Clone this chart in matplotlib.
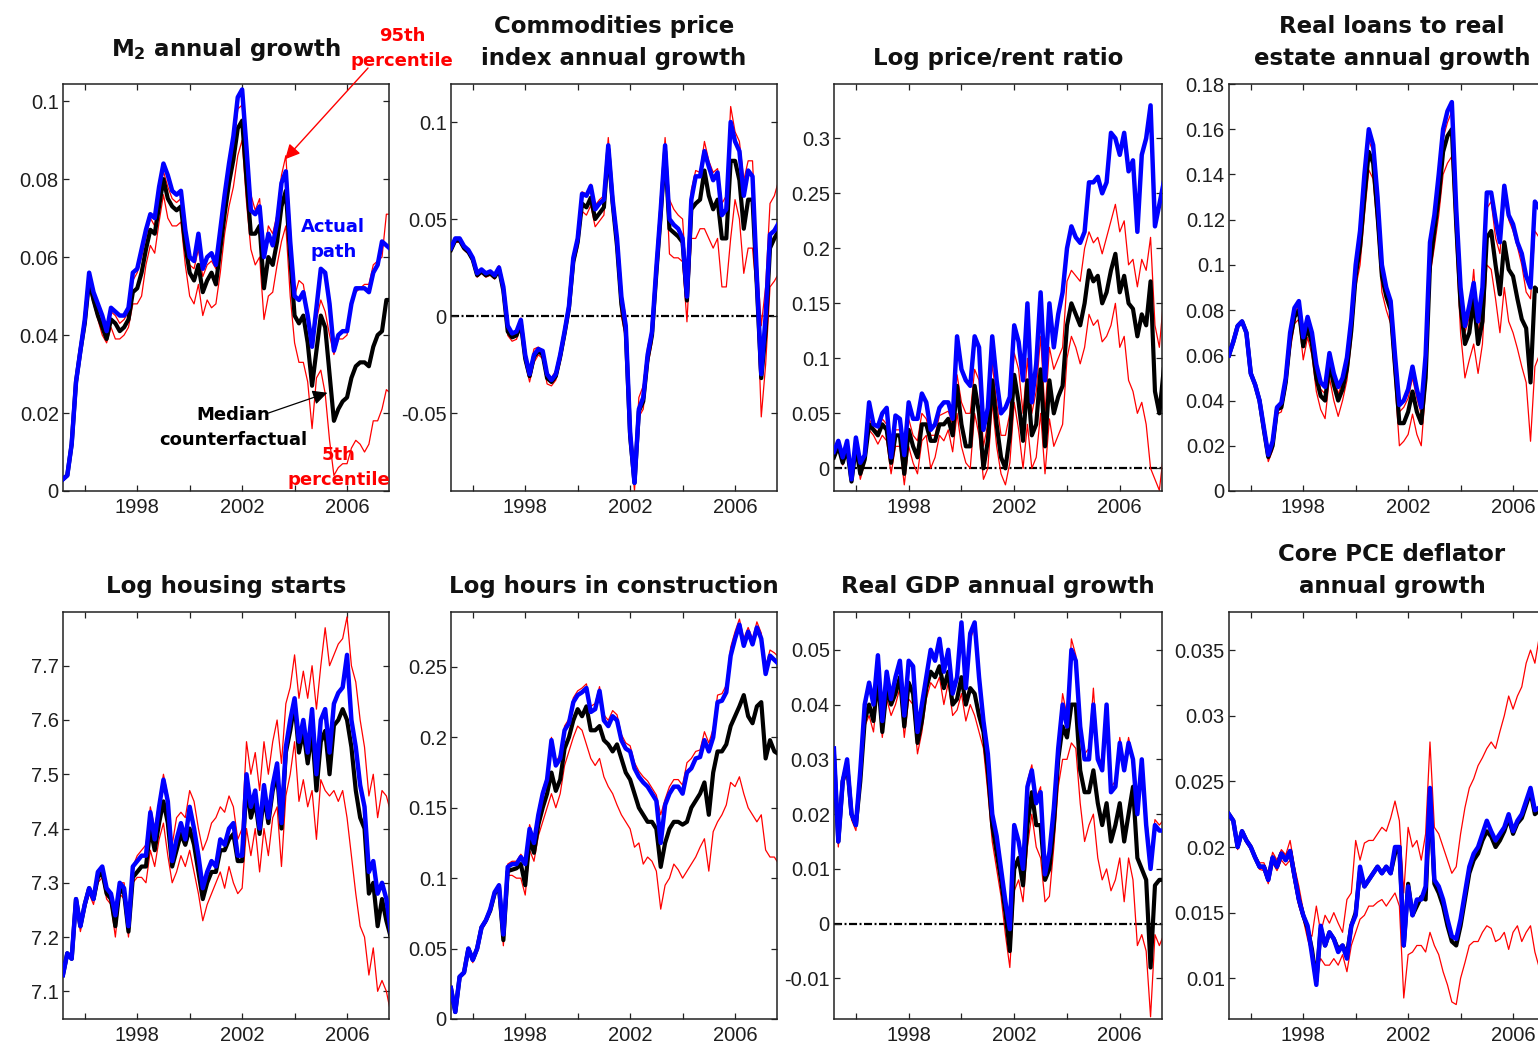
import numpy as np
import matplotlib
matplotlib.use('Agg')
import matplotlib.pyplot as plt

# bimonthly observations, Mar 1995 .. Sep 2007
dates = 1995 + 2/12 + np.arange(76) / 6

# ---- M2 annual growth ----
m2_actual = [0.003, 0.004, 0.012, 0.028, 0.036,
             0.044, 0.056, 0.051, 0.048, 0.045, 0.041,
             0.047, 0.046, 0.045, 0.045, 0.047, 0.056,
             0.057, 0.062, 0.067, 0.071, 0.070, 0.078,
             0.084, 0.081, 0.077, 0.076, 0.077, 0.067,
             0.060, 0.059, 0.066, 0.057, 0.060, 0.061,
             0.058, 0.067, 0.076, 0.084, 0.091, 0.101,
             0.103, 0.088, 0.072, 0.071, 0.073, 0.060,
             0.066, 0.063, 0.069, 0.079, 0.082, 0.064,
             0.050, 0.049, 0.051, 0.045, 0.037, 0.047,
             0.057, 0.056, 0.048, 0.036, 0.040, 0.041,
             0.041, 0.048, 0.052, 0.052, 0.052, 0.051,
             0.056, 0.058, 0.064, 0.063, 0.062]
m2_median = [0.003, 0.004, 0.012, 0.028, 0.036,
             0.043, 0.054, 0.049, 0.045, 0.042, 0.039,
             0.044, 0.043, 0.041, 0.042, 0.044, 0.051,
             0.052, 0.056, 0.062, 0.067, 0.066, 0.073,
             0.080, 0.075, 0.073, 0.072, 0.073, 0.063,
             0.056, 0.054, 0.058, 0.051, 0.054, 0.056,
             0.053, 0.062, 0.071, 0.079, 0.085, 0.093,
             0.095, 0.080, 0.066, 0.066, 0.068, 0.052,
             0.060, 0.058, 0.064, 0.073, 0.077, 0.060,
             0.045, 0.043, 0.045, 0.038, 0.027, 0.036,
             0.045, 0.042, 0.030, 0.018, 0.021, 0.023,
             0.024, 0.029, 0.032, 0.033, 0.033, 0.032,
             0.037, 0.040, 0.041, 0.049, 0.049]
m2_p95 = [0.003, 0.004, 0.012, 0.028, 0.036,
          0.043, 0.055, 0.050, 0.047, 0.044, 0.040,
          0.046, 0.045, 0.043, 0.044, 0.046, 0.054,
          0.056, 0.060, 0.065, 0.070, 0.068, 0.076,
          0.082, 0.078, 0.075, 0.074, 0.075, 0.065,
          0.058, 0.057, 0.062, 0.055, 0.058, 0.059,
          0.057, 0.066, 0.075, 0.082, 0.088, 0.098,
          0.099, 0.086, 0.076, 0.072, 0.075, 0.060,
          0.068, 0.066, 0.071, 0.081, 0.086, 0.068,
          0.050, 0.054, 0.053, 0.046, 0.038, 0.044,
          0.049, 0.046, 0.040, 0.035, 0.039, 0.039,
          0.040, 0.048, 0.051, 0.052, 0.053, 0.053,
          0.058, 0.059, 0.060, 0.071, 0.071]
m2_p05 = [0.003, 0.004, 0.011, 0.027, 0.035,
          0.042, 0.052, 0.048, 0.044, 0.040, 0.038,
          0.042, 0.039, 0.039, 0.040, 0.042, 0.048,
          0.048, 0.050, 0.058, 0.063, 0.061, 0.069,
          0.076, 0.070, 0.068, 0.068, 0.069, 0.058,
          0.050, 0.048, 0.053, 0.045, 0.049, 0.047,
          0.048, 0.056, 0.066, 0.073, 0.078, 0.086,
          0.090, 0.074, 0.062, 0.058, 0.060, 0.044,
          0.050, 0.051, 0.058, 0.064, 0.068, 0.050,
          0.038, 0.033, 0.033, 0.028, 0.016, 0.029,
          0.031, 0.025, 0.013, 0.004, 0.006, 0.007,
          0.007, 0.011, 0.013, 0.012, 0.010, 0.012,
          0.018, 0.018, 0.021, 0.026, 0.025]

# ---- commodities price index annual growth ----
com_actual = [0.035, 0.040, 0.040, 0.036, 0.034,
              0.030, 0.022, 0.024, 0.022, 0.023, 0.021,
              0.025, 0.015, -0.005, -0.009, -0.008, -0.002,
              -0.020, -0.030, -0.020, -0.017, -0.018, -0.030,
              -0.033, -0.030, -0.020, -0.008, 0.005, 0.030,
              0.040, 0.063, 0.062, 0.067, 0.055, 0.058,
              0.060, 0.088, 0.060, 0.040, 0.010, -0.005,
              -0.060, -0.086, -0.048, -0.042, -0.020, -0.008,
              0.025, 0.055, 0.088, 0.050, 0.047, 0.045,
              0.040, 0.010, 0.060, 0.072, 0.072, 0.085,
              0.077, 0.070, 0.074, 0.052, 0.055, 0.100,
              0.090, 0.085, 0.062, 0.075, 0.072, 0.020,
              -0.030, 0.000, 0.042, 0.044, 0.048]
com_median = [0.034, 0.039, 0.039, 0.035, 0.033,
              0.029, 0.021, 0.023, 0.021, 0.022, 0.020,
              0.024, 0.013, -0.008, -0.011, -0.010, -0.004,
              -0.022, -0.031, -0.021, -0.018, -0.020, -0.032,
              -0.034, -0.031, -0.021, -0.009, 0.004, 0.028,
              0.038, 0.058, 0.056, 0.061, 0.050, 0.053,
              0.056, 0.086, 0.058, 0.036, 0.006, -0.008,
              -0.062, -0.086, -0.049, -0.044, -0.022, -0.010,
              0.022, 0.052, 0.085, 0.045, 0.043, 0.041,
              0.038, 0.008, 0.055, 0.058, 0.060, 0.075,
              0.062, 0.055, 0.060, 0.040, 0.040, 0.080,
              0.080, 0.070, 0.045, 0.060, 0.060, 0.015,
              -0.032, -0.008, 0.035, 0.040, 0.044]
com_p95 = [0.035, 0.040, 0.040, 0.036, 0.034,
           0.030, 0.022, 0.024, 0.022, 0.023, 0.021,
           0.026, 0.015, -0.006, -0.009, -0.007, -0.001,
           -0.019, -0.028, -0.017, -0.016, -0.018, -0.029,
           -0.032, -0.028, -0.018, -0.006, 0.007, 0.032,
           0.041, 0.064, 0.063, 0.068, 0.057, 0.060,
           0.062, 0.092, 0.062, 0.045, 0.012, 0.000,
           -0.055, -0.080, -0.042, -0.036, -0.016, -0.006,
           0.028, 0.058, 0.092, 0.060, 0.055, 0.052,
           0.050, 0.015, 0.065, 0.075, 0.074, 0.090,
           0.080, 0.074, 0.076, 0.058, 0.062, 0.108,
           0.095, 0.090, 0.070, 0.080, 0.080, 0.030,
           -0.005, 0.015, 0.058, 0.062, 0.070]
com_p05 = [0.033, 0.038, 0.038, 0.034, 0.032,
           0.028, 0.020, 0.022, 0.020, 0.021, 0.019,
           0.023, 0.012, -0.010, -0.013, -0.012, -0.006,
           -0.024, -0.034, -0.024, -0.020, -0.022, -0.035,
           -0.036, -0.033, -0.024, -0.012, 0.002, 0.026,
           0.035, 0.054, 0.052, 0.057, 0.046, 0.049,
           0.052, 0.084, 0.056, 0.033, 0.000, -0.012,
           -0.065, -0.090, -0.052, -0.048, -0.026, -0.014,
           0.018, 0.048, 0.082, 0.032, 0.030, 0.030,
           0.028, -0.003, 0.040, 0.040, 0.045, 0.045,
           0.040, 0.035, 0.040, 0.015, 0.015, 0.040,
           0.060, 0.050, 0.022, 0.035, 0.035, 0.010,
           -0.052, -0.025, 0.015, 0.018, 0.022]

# ---- log price/rent ratio ----
pr_actual = [0.015, 0.025, 0.010, 0.025, -0.010,
             0.028, 0.005, 0.012, 0.060, 0.040, 0.038,
             0.050, 0.055, 0.010, 0.048, 0.045, 0.012,
             0.060, 0.045, 0.045, 0.068, 0.060, 0.035,
             0.040, 0.055, 0.060, 0.060, 0.045, 0.120,
             0.090, 0.080, 0.075, 0.120, 0.110, 0.035,
             0.055, 0.120, 0.080, 0.050, 0.055, 0.065,
             0.130, 0.115, 0.080, 0.150, 0.060, 0.095,
             0.160, 0.080, 0.150, 0.110, 0.140, 0.160,
             0.200, 0.220, 0.210, 0.205, 0.215, 0.260,
             0.260, 0.265, 0.250, 0.260, 0.305, 0.300,
             0.285, 0.305, 0.270, 0.280, 0.215, 0.285,
             0.300, 0.330, 0.220, 0.240, 0.260]
pr_median = [0.010, 0.020, 0.005, 0.018, -0.012,
             0.020, -0.005, 0.008, 0.040, 0.035, 0.030,
             0.040, 0.035, 0.005, 0.030, 0.030, -0.005,
             0.035, 0.020, 0.010, 0.040, 0.040, 0.025,
             0.025, 0.040, 0.040, 0.045, 0.030, 0.075,
             0.040, 0.020, 0.020, 0.075, 0.050, 0.000,
             0.025, 0.080, 0.040, 0.010, 0.000, 0.030,
             0.085, 0.060, 0.025, 0.080, 0.030, 0.040,
             0.090, 0.020, 0.080, 0.050, 0.065, 0.075,
             0.130, 0.150, 0.140, 0.130, 0.150, 0.180,
             0.170, 0.175, 0.150, 0.160, 0.180, 0.195,
             0.160, 0.175, 0.150, 0.145, 0.120, 0.140,
             0.130, 0.170, 0.070, 0.050, 0.090]
pr_p95 = [0.012, 0.022, 0.008, 0.020, -0.011,
          0.024, 0.000, 0.010, 0.045, 0.037, 0.033,
          0.045, 0.040, 0.008, 0.035, 0.035, 0.005,
          0.045, 0.030, 0.025, 0.050, 0.045, 0.030,
          0.030, 0.048, 0.050, 0.052, 0.040, 0.085,
          0.060, 0.050, 0.050, 0.090, 0.080, 0.020,
          0.040, 0.095, 0.060, 0.030, 0.030, 0.050,
          0.105, 0.090, 0.050, 0.100, 0.050, 0.070,
          0.120, 0.050, 0.110, 0.090, 0.100, 0.110,
          0.170, 0.180, 0.175, 0.170, 0.200, 0.215,
          0.205, 0.210, 0.195, 0.210, 0.225, 0.240,
          0.215, 0.225, 0.185, 0.190, 0.165, 0.190,
          0.180, 0.210, 0.130, 0.110, 0.155]
pr_p05 = [0.008, 0.018, 0.003, 0.015, -0.013,
          0.015, -0.010, 0.005, 0.035, 0.030, 0.022,
          0.030, 0.025, -0.005, 0.020, 0.020, -0.015,
          0.020, 0.005, -0.005, 0.025, 0.030, 0.000,
          0.010, 0.030, 0.025, 0.035, 0.015, 0.050,
          0.020, 0.005, 0.000, 0.050, 0.030, -0.010,
          0.000, 0.060, 0.020, -0.005, -0.015, 0.005,
          0.060, 0.035, 0.000, 0.040, 0.000, 0.010,
          0.050, -0.005, 0.045, 0.020, 0.030, 0.040,
          0.100, 0.120, 0.110, 0.095, 0.110, 0.140,
          0.130, 0.135, 0.115, 0.120, 0.130, 0.150,
          0.110, 0.120, 0.080, 0.070, 0.050, 0.060,
          0.040, 0.000, -0.010, -0.020, 0.015]

# ---- real loans to real estate annual growth ----
rl_actual = [0.060, 0.066, 0.073, 0.075, 0.070,
             0.052, 0.047, 0.040, 0.028, 0.016, 0.022,
             0.037, 0.039, 0.050, 0.070, 0.081, 0.084,
             0.068, 0.077, 0.070, 0.056, 0.048, 0.046,
             0.061, 0.052, 0.046, 0.050, 0.059, 0.076,
             0.100, 0.115, 0.140, 0.160, 0.153, 0.130,
             0.100, 0.090, 0.084, 0.060, 0.038, 0.040,
             0.045, 0.055, 0.045, 0.037, 0.060, 0.110,
             0.122, 0.140, 0.160, 0.168, 0.172, 0.125,
             0.090, 0.073, 0.082, 0.092, 0.075, 0.090,
             0.132, 0.132, 0.120, 0.110, 0.135, 0.122,
             0.118, 0.110, 0.105, 0.095, 0.090, 0.128,
             0.125, 0.122, 0.118, 0.115, 0.112]
rl_median = [0.060, 0.066, 0.073, 0.075, 0.070,
             0.052, 0.047, 0.040, 0.027, 0.015, 0.020,
             0.036, 0.037, 0.048, 0.067, 0.077, 0.080,
             0.064, 0.073, 0.065, 0.050, 0.042, 0.040,
             0.056, 0.047, 0.040, 0.045, 0.054, 0.071,
             0.095, 0.108, 0.130, 0.150, 0.145, 0.122,
             0.095, 0.086, 0.080, 0.055, 0.030, 0.030,
             0.035, 0.044, 0.035, 0.030, 0.050, 0.100,
             0.115, 0.130, 0.150, 0.157, 0.160, 0.118,
             0.082, 0.065, 0.070, 0.085, 0.065, 0.075,
             0.112, 0.115, 0.100, 0.087, 0.110, 0.098,
             0.095, 0.085, 0.076, 0.072, 0.048, 0.090,
             0.088, 0.087, 0.085, 0.083, 0.080]
rl_p95 = [0.060, 0.066, 0.073, 0.075, 0.070,
          0.052, 0.047, 0.040, 0.027, 0.015, 0.021,
          0.037, 0.038, 0.049, 0.068, 0.079, 0.082,
          0.066, 0.075, 0.068, 0.053, 0.045, 0.043,
          0.058, 0.050, 0.043, 0.048, 0.057, 0.074,
          0.098, 0.112, 0.135, 0.155, 0.150, 0.127,
          0.098, 0.088, 0.082, 0.058, 0.035, 0.037,
          0.041, 0.050, 0.041, 0.034, 0.056, 0.106,
          0.119, 0.136, 0.156, 0.163, 0.168, 0.123,
          0.087, 0.070, 0.077, 0.098, 0.070, 0.082,
          0.125, 0.128, 0.112, 0.105, 0.130, 0.120,
          0.115, 0.108, 0.100, 0.088, 0.085, 0.115,
          0.112, 0.110, 0.108, 0.106, 0.104]
rl_p05 = [0.060, 0.066, 0.073, 0.075, 0.070,
          0.052, 0.046, 0.039, 0.025, 0.013, 0.018,
          0.034, 0.035, 0.045, 0.062, 0.074, 0.076,
          0.058, 0.068, 0.060, 0.044, 0.036, 0.032,
          0.050, 0.040, 0.033, 0.040, 0.049, 0.066,
          0.090, 0.100, 0.122, 0.142, 0.138, 0.115,
          0.088, 0.080, 0.074, 0.048, 0.020, 0.022,
          0.025, 0.034, 0.025, 0.020, 0.045, 0.095,
          0.108, 0.122, 0.140, 0.145, 0.148, 0.108,
          0.070, 0.050, 0.058, 0.065, 0.052, 0.065,
          0.100, 0.098, 0.085, 0.070, 0.090, 0.075,
          0.070, 0.063, 0.055, 0.048, 0.022, 0.055,
          0.060, 0.058, 0.056, 0.055, 0.054]

# ---- log housing starts ----
hs_actual = [7.13, 7.17, 7.16, 7.27, 7.22,
             7.26, 7.29, 7.27, 7.32, 7.33, 7.29,
             7.28, 7.24, 7.30, 7.29, 7.22, 7.33,
             7.34, 7.35, 7.35, 7.43, 7.38, 7.44,
             7.49, 7.45, 7.34, 7.38, 7.41, 7.38,
             7.44, 7.40, 7.35, 7.29, 7.32, 7.34,
             7.33, 7.38, 7.37, 7.40, 7.41, 7.35,
             7.35, 7.50, 7.44, 7.47, 7.40, 7.48,
             7.42, 7.48, 7.52, 7.41, 7.55, 7.60,
             7.64, 7.56, 7.60, 7.54, 7.62, 7.50,
             7.60, 7.62, 7.54, 7.63, 7.65, 7.66,
             7.72, 7.60, 7.55, 7.48, 7.44, 7.32,
             7.34, 7.28, 7.30, 7.27, 7.21]
hs_median = [7.13, 7.17, 7.16, 7.27, 7.22,
             7.26, 7.29, 7.27, 7.31, 7.32, 7.28,
             7.27, 7.22, 7.29, 7.28, 7.21, 7.31,
             7.32, 7.33, 7.33, 7.40, 7.36, 7.41,
             7.45, 7.41, 7.33, 7.36, 7.39, 7.37,
             7.40, 7.37, 7.32, 7.27, 7.30, 7.32,
             7.32, 7.36, 7.36, 7.38, 7.39, 7.34,
             7.34, 7.48, 7.42, 7.45, 7.39, 7.46,
             7.41, 7.47, 7.50, 7.40, 7.54, 7.58,
             7.63, 7.54, 7.58, 7.52, 7.58, 7.47,
             7.56, 7.58, 7.50, 7.59, 7.60, 7.62,
             7.60, 7.55, 7.47, 7.42, 7.40, 7.28,
             7.30, 7.22, 7.27, 7.23, 7.20]
hs_p95 = [7.13, 7.17, 7.16, 7.27, 7.22,
          7.26, 7.29, 7.27, 7.32, 7.33, 7.29,
          7.28, 7.23, 7.30, 7.30, 7.22, 7.33,
          7.35, 7.36, 7.37, 7.44, 7.40, 7.45,
          7.50, 7.46, 7.37, 7.42, 7.43, 7.42,
          7.47, 7.45, 7.40, 7.36, 7.38, 7.41,
          7.42, 7.44, 7.43, 7.46, 7.44, 7.38,
          7.40, 7.56, 7.50, 7.54, 7.47, 7.56,
          7.50, 7.56, 7.60, 7.52, 7.63, 7.66,
          7.72, 7.64, 7.69, 7.64, 7.70, 7.62,
          7.70, 7.77, 7.70, 7.72, 7.74, 7.75,
          7.79, 7.70, 7.67, 7.60, 7.55, 7.46,
          7.50, 7.42, 7.47, 7.46, 7.43]
hs_p05 = [7.13, 7.17, 7.16, 7.26, 7.21,
          7.25, 7.28, 7.26, 7.30, 7.31, 7.27,
          7.26, 7.20, 7.28, 7.27, 7.20, 7.30,
          7.31, 7.31, 7.30, 7.36, 7.33, 7.38,
          7.41, 7.35, 7.30, 7.32, 7.35, 7.33,
          7.36, 7.32, 7.28, 7.23, 7.26, 7.28,
          7.30, 7.32, 7.29, 7.33, 7.30, 7.28,
          7.29, 7.40, 7.35, 7.40, 7.32, 7.40,
          7.35, 7.42, 7.44, 7.33, 7.46, 7.50,
          7.56, 7.45, 7.49, 7.44, 7.47, 7.38,
          7.49, 7.47, 7.46, 7.47, 7.45, 7.47,
          7.42, 7.35, 7.28, 7.22, 7.20, 7.13,
          7.18, 7.10, 7.12, 7.10, 7.06]

# ---- log hours in construction ----
hc_actual = [0.022, 0.005, 0.030, 0.033, 0.050,
             0.042, 0.050, 0.065, 0.070, 0.078, 0.090,
             0.095, 0.060, 0.108, 0.110, 0.110, 0.115,
             0.110, 0.135, 0.125, 0.145, 0.160, 0.170,
             0.198, 0.180, 0.185, 0.205, 0.210, 0.225,
             0.230, 0.232, 0.235, 0.218, 0.220, 0.233,
             0.212, 0.208, 0.215, 0.212, 0.198, 0.192,
             0.190, 0.178, 0.172, 0.168, 0.165, 0.160,
             0.155, 0.125, 0.152, 0.160, 0.165, 0.165,
             0.160, 0.175, 0.178, 0.185, 0.186, 0.198,
             0.190, 0.200, 0.225, 0.226, 0.232, 0.258,
             0.270, 0.280, 0.265, 0.275, 0.266, 0.278,
             0.270, 0.245, 0.258, 0.255, 0.252]
hc_median = [0.022, 0.005, 0.030, 0.033, 0.050,
             0.042, 0.050, 0.065, 0.070, 0.077, 0.089,
             0.094, 0.056, 0.105, 0.106, 0.107, 0.110,
             0.095, 0.128, 0.118, 0.138, 0.150, 0.160,
             0.175, 0.162, 0.170, 0.192, 0.200, 0.212,
             0.220, 0.215, 0.222, 0.205, 0.205, 0.208,
             0.198, 0.195, 0.190, 0.195, 0.185, 0.175,
             0.170, 0.160, 0.150, 0.145, 0.140, 0.140,
             0.135, 0.108, 0.125, 0.135, 0.140, 0.140,
             0.138, 0.140, 0.150, 0.155, 0.160, 0.168,
             0.145, 0.175, 0.190, 0.190, 0.195, 0.208,
             0.215, 0.222, 0.230, 0.215, 0.210, 0.222,
             0.225, 0.185, 0.198, 0.190, 0.188]
hc_p95 = [0.022, 0.005, 0.030, 0.033, 0.050,
          0.042, 0.050, 0.065, 0.070, 0.078, 0.090,
          0.096, 0.062, 0.110, 0.112, 0.112, 0.117,
          0.112, 0.138, 0.128, 0.148, 0.163, 0.172,
          0.200, 0.182, 0.188, 0.208, 0.213, 0.228,
          0.233, 0.235, 0.238, 0.222, 0.224, 0.236,
          0.216, 0.212, 0.219, 0.216, 0.202, 0.196,
          0.194, 0.182, 0.176, 0.172, 0.169, 0.164,
          0.159, 0.145, 0.156, 0.165, 0.170, 0.170,
          0.166, 0.182, 0.185, 0.190, 0.191, 0.204,
          0.196, 0.206, 0.230, 0.231, 0.237, 0.264,
          0.275, 0.284, 0.270, 0.278, 0.270, 0.282,
          0.274, 0.250, 0.262, 0.260, 0.257]
hc_p05 = [0.022, 0.005, 0.030, 0.033, 0.050,
          0.040, 0.048, 0.063, 0.068, 0.076, 0.088,
          0.092, 0.052, 0.102, 0.102, 0.100, 0.100,
          0.088, 0.120, 0.112, 0.130, 0.140, 0.150,
          0.160, 0.150, 0.160, 0.180, 0.190, 0.200,
          0.208, 0.205, 0.195, 0.185, 0.180, 0.185,
          0.172, 0.165, 0.160, 0.152, 0.145, 0.140,
          0.135, 0.122, 0.125, 0.110, 0.115, 0.112,
          0.105, 0.078, 0.095, 0.100, 0.110, 0.106,
          0.100, 0.105, 0.110, 0.115, 0.122, 0.128,
          0.105, 0.133, 0.140, 0.145, 0.152, 0.168,
          0.165, 0.172, 0.160, 0.150, 0.145, 0.140,
          0.145, 0.120, 0.115, 0.115, 0.110]

# ---- real GDP annual growth ----
gdp_actual = [0.032, 0.015, 0.026, 0.030, 0.020,
              0.018, 0.028, 0.040, 0.044, 0.040, 0.049,
              0.037, 0.046, 0.041, 0.045, 0.048, 0.038,
              0.048, 0.047, 0.035, 0.040, 0.045, 0.050,
              0.048, 0.052, 0.046, 0.050, 0.042, 0.045,
              0.055, 0.043, 0.053, 0.055, 0.045, 0.037,
              0.031, 0.020, 0.016, 0.010, 0.004, -0.001,
              0.018, 0.015, 0.010, 0.025, 0.028, 0.022,
              0.024, 0.009, 0.013, 0.021, 0.032, 0.040,
              0.036, 0.050, 0.048, 0.036, 0.030, 0.030,
              0.040, 0.030, 0.028, 0.040, 0.024, 0.025,
              0.033, 0.028, 0.033, 0.030, 0.020, 0.030,
              0.018, 0.010, 0.018, 0.017, 0.017]
gdp_median = [0.031, 0.015, 0.026, 0.029, 0.020,
              0.018, 0.026, 0.037, 0.040, 0.037, 0.045,
              0.035, 0.043, 0.040, 0.042, 0.045, 0.036,
              0.044, 0.042, 0.033, 0.037, 0.043, 0.046,
              0.045, 0.047, 0.043, 0.046, 0.040, 0.041,
              0.045, 0.040, 0.043, 0.042, 0.038, 0.035,
              0.028, 0.018, 0.013, 0.008, 0.002, -0.005,
              0.010, 0.012, 0.007, 0.018, 0.024, 0.018,
              0.018, 0.008, 0.010, 0.018, 0.030, 0.036,
              0.034, 0.040, 0.040, 0.028, 0.024, 0.024,
              0.028, 0.022, 0.018, 0.022, 0.015, 0.018,
              0.022, 0.015, 0.020, 0.025, 0.012, 0.010,
              0.008, -0.008, 0.007, 0.008, 0.008]
gdp_p95 = [0.032, 0.015, 0.026, 0.030, 0.020,
           0.018, 0.028, 0.040, 0.044, 0.040, 0.049,
           0.037, 0.046, 0.041, 0.045, 0.048, 0.038,
           0.048, 0.047, 0.035, 0.040, 0.045, 0.050,
           0.048, 0.052, 0.046, 0.050, 0.042, 0.045,
           0.054, 0.043, 0.052, 0.054, 0.045, 0.037,
           0.031, 0.020, 0.016, 0.010, 0.004, -0.001,
           0.018, 0.015, 0.011, 0.026, 0.029, 0.023,
           0.025, 0.010, 0.014, 0.022, 0.033, 0.042,
           0.038, 0.052, 0.049, 0.037, 0.031, 0.032,
           0.043, 0.031, 0.029, 0.040, 0.025, 0.026,
           0.034, 0.029, 0.034, 0.030, 0.021, 0.030,
           0.020, 0.012, 0.019, 0.018, 0.019]
gdp_p05 = [0.030, 0.014, 0.025, 0.028, 0.019,
           0.017, 0.025, 0.036, 0.038, 0.035, 0.043,
           0.034, 0.041, 0.038, 0.040, 0.043, 0.034,
           0.041, 0.040, 0.031, 0.035, 0.041, 0.044,
           0.043, 0.045, 0.040, 0.044, 0.038, 0.039,
           0.042, 0.037, 0.040, 0.038, 0.035, 0.032,
           0.024, 0.015, 0.010, 0.005, -0.002, -0.008,
           0.006, 0.008, 0.004, 0.014, 0.020, 0.014,
           0.012, 0.004, 0.005, 0.014, 0.025, 0.030,
           0.030, 0.033, 0.032, 0.022, 0.015, 0.018,
           0.020, 0.012, 0.008, 0.010, 0.006, 0.008,
           0.012, 0.004, 0.012, 0.008, -0.004, -0.002,
           -0.005, -0.017, -0.002, -0.004, -0.002]

# ---- core PCE deflator annual growth ----
pce_actual = [0.0225, 0.0220, 0.0200, 0.0212, 0.0205,
              0.0200, 0.0192, 0.0185, 0.0185, 0.0175, 0.0192,
              0.0185, 0.0195, 0.0190, 0.0197, 0.0178, 0.0160,
              0.0148, 0.0140, 0.0118, 0.0095, 0.0140, 0.0125,
              0.0135, 0.0130, 0.0120, 0.0125, 0.0115, 0.0140,
              0.0148, 0.0185, 0.0170, 0.0175, 0.0180, 0.0185,
              0.0180, 0.0185, 0.0180, 0.0200, 0.0200, 0.0125,
              0.0170, 0.0148, 0.0160, 0.0160, 0.0170, 0.0245,
              0.0175, 0.0170, 0.0160, 0.0145, 0.0132, 0.0130,
              0.0145, 0.0165, 0.0185, 0.0195, 0.0200, 0.0210,
              0.0220, 0.0212, 0.0205, 0.0210, 0.0215, 0.0225,
              0.0212, 0.0220, 0.0225, 0.0235, 0.0245, 0.0228,
              0.0230, 0.0235, 0.0240, 0.0240, 0.0240]
pce_median = [0.0225, 0.0220, 0.0200, 0.0212, 0.0205,
              0.0200, 0.0192, 0.0185, 0.0185, 0.0175, 0.0192,
              0.0185, 0.0195, 0.0190, 0.0197, 0.0178, 0.0160,
              0.0148, 0.0138, 0.0122, 0.0098, 0.0138, 0.0125,
              0.0135, 0.0130, 0.0122, 0.0125, 0.0118, 0.0140,
              0.0150, 0.0182, 0.0170, 0.0175, 0.0180, 0.0185,
              0.0180, 0.0185, 0.0180, 0.0195, 0.0200, 0.0125,
              0.0172, 0.0148, 0.0155, 0.0162, 0.0160, 0.0240,
              0.0172, 0.0165, 0.0155, 0.0140, 0.0128, 0.0125,
              0.0140, 0.0160, 0.0180, 0.0190, 0.0195, 0.0205,
              0.0212, 0.0208, 0.0200, 0.0205, 0.0212, 0.0222,
              0.0210, 0.0218, 0.0222, 0.0232, 0.0242, 0.0225,
              0.0228, 0.0232, 0.0236, 0.0236, 0.0236]
pce_p95 = [0.0226, 0.0221, 0.0202, 0.0213, 0.0206,
           0.0202, 0.0194, 0.0188, 0.0188, 0.0180, 0.0196,
           0.0190, 0.0198, 0.0194, 0.0205, 0.0185, 0.0170,
           0.0152, 0.0135, 0.0132, 0.0155, 0.0135, 0.0148,
           0.0142, 0.0150, 0.0142, 0.0135, 0.0160, 0.0165,
           0.0205, 0.0190, 0.0203, 0.0205, 0.0205, 0.0210,
           0.0215, 0.0212, 0.0222, 0.0235, 0.0220, 0.0165,
           0.0215, 0.0200, 0.0205, 0.0190, 0.0210, 0.0280,
           0.0215, 0.0210, 0.0200, 0.0190, 0.0180, 0.0185,
           0.0210, 0.0230, 0.0245, 0.0252, 0.0262, 0.0268,
           0.0275, 0.0280, 0.0275, 0.0288, 0.0300, 0.0315,
           0.0305, 0.0315, 0.0322, 0.0340, 0.0350, 0.0340,
           0.0360, 0.0362, 0.0365, 0.0365, 0.0370]
pce_p05 = [0.0224, 0.0219, 0.0198, 0.0210, 0.0203,
           0.0198, 0.0190, 0.0183, 0.0182, 0.0172, 0.0188,
           0.0182, 0.0190, 0.0186, 0.0190, 0.0172, 0.0155,
           0.0145, 0.0130, 0.0118, 0.0105, 0.0115, 0.0110,
           0.0110, 0.0115, 0.0110, 0.0118, 0.0105, 0.0125,
           0.0135, 0.0145, 0.0148, 0.0155, 0.0155, 0.0158,
           0.0160, 0.0155, 0.0160, 0.0165, 0.0155, 0.0085,
           0.0118, 0.0120, 0.0125, 0.0125, 0.0120, 0.0135,
           0.0125, 0.0118, 0.0105, 0.0095, 0.0082, 0.0080,
           0.0100, 0.0112, 0.0125, 0.0128, 0.0128, 0.0135,
           0.0140, 0.0138, 0.0128, 0.0130, 0.0135, 0.0122,
           0.0135, 0.0140, 0.0128, 0.0135, 0.0140, 0.0120,
           0.0108, 0.0120, 0.0125, 0.0125, 0.0125]

# panel titles and y axes
titles = ['M$_\\mathbf{2}$ annual growth',
          'Commodities price\nindex annual growth',
          'Log price/rent ratio',
          'Real loans to real\nestate annual growth',
          'Log housing starts',
          'Log hours in construction',
          'Real GDP annual growth',
          'Core PCE deflator\nannual growth']
ylims = [(0, 0.1044), (-0.0902, 0.1196), (-0.0206, 0.3494), (0, 0.18),
         (7.049, 7.799), (0, 0.289), (-0.0174, 0.0569), (0.0069, 0.0379)]
yticks = [[0, 0.02, 0.04, 0.06, 0.08, 0.1],
          [-0.05, 0, 0.05, 0.1],
          [0, 0.05, 0.1, 0.15, 0.2, 0.25, 0.3],
          [0, 0.02, 0.04, 0.06, 0.08, 0.1, 0.12, 0.14, 0.16, 0.18],
          [7.1, 7.2, 7.3, 7.4, 7.5, 7.6, 7.7],
          [0, 0.05, 0.1, 0.15, 0.2, 0.25],
          [-0.01, 0, 0.01, 0.02, 0.03, 0.04, 0.05],
          [0.01, 0.015, 0.02, 0.025, 0.03, 0.035]]
zero_lines = [False, True, True, False, False, False, True, False]

series = [(m2_actual, m2_median, m2_p95, m2_p05),
          (com_actual, com_median, com_p95, com_p05),
          (pr_actual, pr_median, pr_p95, pr_p05),
          (rl_actual, rl_median, rl_p95, rl_p05),
          (hs_actual, hs_median, hs_p95, hs_p05),
          (hc_actual, hc_median, hc_p95, hc_p05),
          (gdp_actual, gdp_median, gdp_p95, gdp_p05),
          (pce_actual, pce_median, pce_p95, pce_p05)]

year_ticks = [1996, 1998, 2000, 2002, 2004, 2006]
year_labels = ['', '1998', '', '2002', '', '2006']

plt.rcParams['font.family'] = ['Liberation Sans', 'DejaVu Sans']
plt.rcParams['mathtext.fontset'] = 'dejavusans'
plt.rcParams['lines.scale_dashes'] = False

W, H = 1538, 1048
fig = plt.figure(figsize=(W / 100, H / 100), dpi=100, facecolor='w')

# axes boxes in pixels: left, top, width, height
col_x = [(63, 326), (451, 326), (834, 328), (1229, 326)]
row_y = [84, 612]
box_h = 407

axes = []
for i in range(8):
    x0, w = col_x[i % 4]
    y0 = row_y[i // 4]
    ax = fig.add_axes([x0 / W, 1 - (y0 + box_h) / H, w / W, box_h / H])
    axes.append(ax)

for i, ax in enumerate(axes):
    actual, median, p95, p05 = series[i]
    if zero_lines[i]:
        ax.axhline(0, color='k', lw=1.6, ls=(0, (5.8, 1.8, 1.4, 1.8)), zorder=1)
    ax.plot(dates, p95, color='#ff0000', lw=0.9, zorder=2)
    ax.plot(dates, p05, color='#ff0000', lw=0.9, zorder=2)
    ax.plot(dates, median, color='k', lw=3.0, zorder=3)
    ax.plot(dates, actual, color='#0000ff', lw=3.2, zorder=4)

    ax.set_xlim(1995.17, 2007.6)
    ax.set_ylim(*ylims[i])
    ax.set_xticks(year_ticks)
    ax.set_xticklabels(year_labels)
    ax.set_yticks(yticks[i])
    ax.set_yticklabels(['%g' % v for v in yticks[i]])
    ax.tick_params(direction='in', top=True, right=True, length=4.5, width=0.9,
                   labelsize=14.5, labelcolor='#1e1e1e', color='#222222')
    ax.tick_params(axis='x', pad=5)
    ax.tick_params(axis='y', pad=3)
    for sp in ax.spines.values():
        sp.set_linewidth(1.1)
        sp.set_color('#222222')

    pad = 20 if i == 0 else 14
    ax.set_title(titles[i], fontsize=16.5, fontweight='bold', family='DejaVu Sans',
                 color='#111111', pad=pad, linespacing=1.5)

# labels on the M2 panel
ax = axes[0]
label_font = dict(fontsize=13, fontweight='bold', family='DejaVu Sans',
                  ha='center', va='center', linespacing=1.5)
ax.annotate('', xy=(2003.64, 0.0851), xytext=(2006.8, 0.1085),
            arrowprops=dict(arrowstyle='-|>', color='#ff0000', lw=1.0,
                            mutation_scale=22, shrinkA=0, shrinkB=0),
            annotation_clip=False)
ax.text(2008.1, 0.1134, '95th\npercentile', color='#ff0000', clip_on=False,
        **label_font)
ax.text(2005.48, 0.0645, 'Actual\npath', color='#0000ff', **label_font)
ax.annotate('', xy=(2005.25, 0.0252), xytext=(2003.0, 0.0200),
            arrowprops=dict(arrowstyle='-|>', color='k', lw=0.9,
                            mutation_scale=22, shrinkA=0, shrinkB=0),
            annotation_clip=False)
ax.text(2001.66, 0.0162, 'Median\ncounterfactual', color='k', **label_font)
ax.text(2005.67, 0.0059, '5th\npercentile', color='#ff0000', zorder=6,
        **label_font)

fig.savefig('out.png', dpi=100)
